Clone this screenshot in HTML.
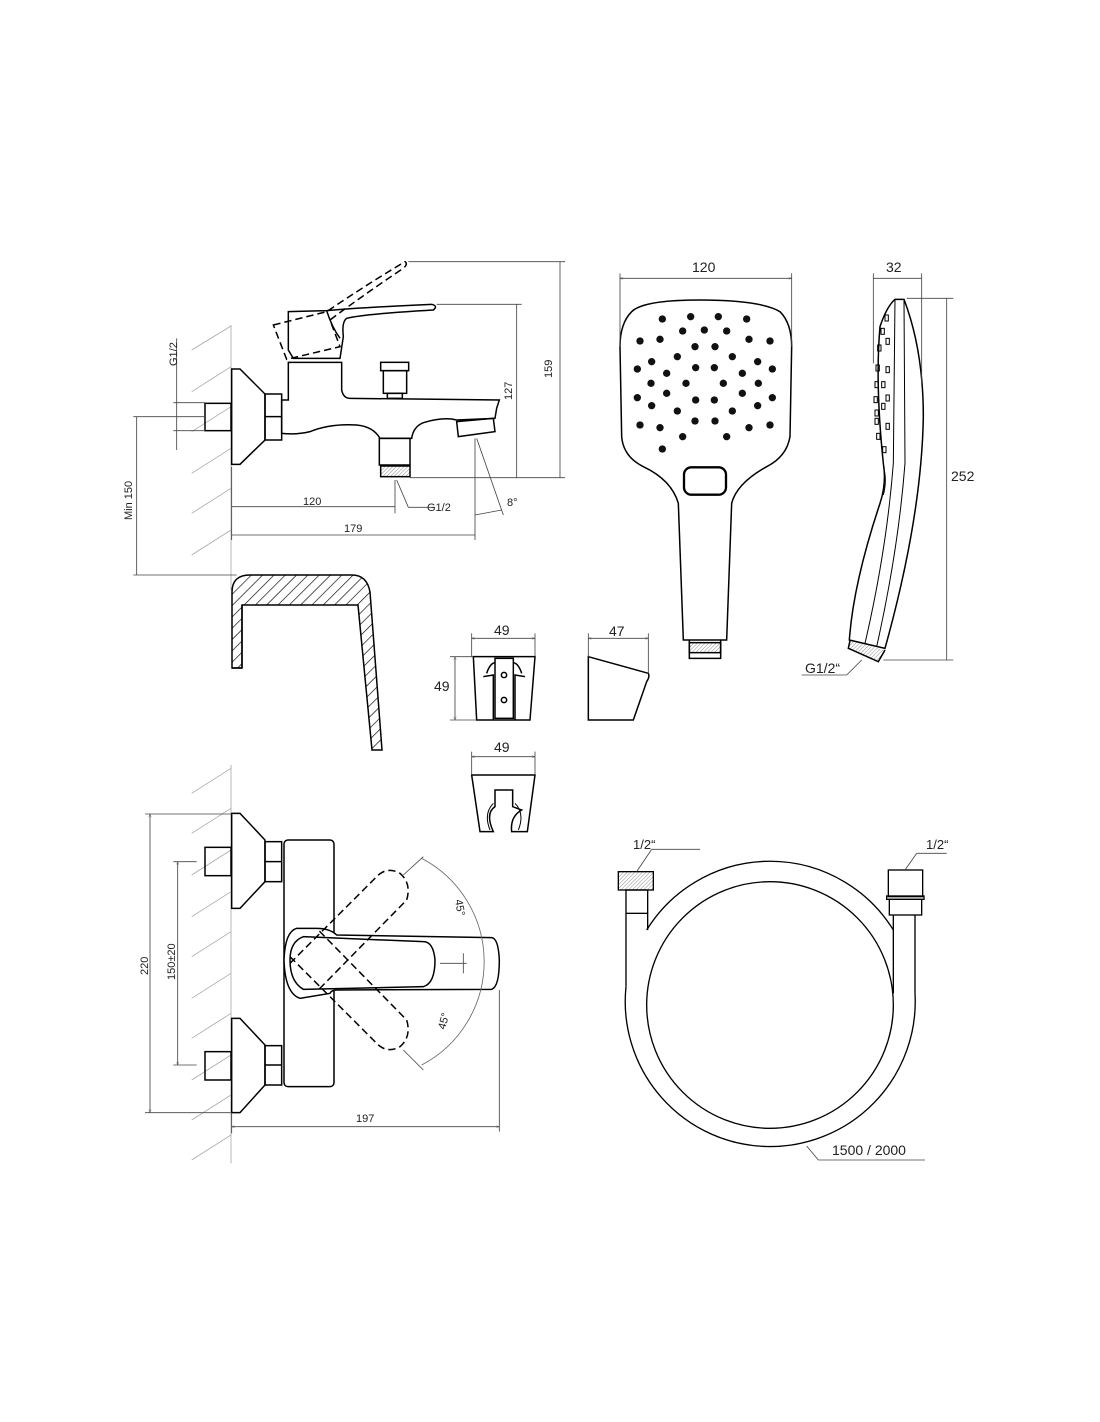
<!DOCTYPE html>
<html><head><meta charset="utf-8"><style>
html,body{margin:0;padding:0;background:#fff}
svg{display:block}
text{font-family:"Liberation Sans",sans-serif;fill:#222}
</style></head><body>
<svg width="1100" height="1422" viewBox="0 0 1100 1422" xmlns="http://www.w3.org/2000/svg">
<defs>
<pattern id="hatch" patternUnits="userSpaceOnUse" width="8" height="8" patternTransform="rotate(45)">
<line x1="0" y1="0" x2="0" y2="8" stroke="#000" stroke-width="1.3"/></pattern>
<marker id="ar" markerWidth="10" markerHeight="8" refX="10" refY="4" orient="auto-start-reverse" markerUnits="userSpaceOnUse">
<path d="M0,0 L10,4 L0,8" fill="none" stroke="#444" stroke-width="1"/></marker>
</defs>

<!-- TOP FAUCET (zoom coords, offset 130,250, scale 1/3) -->
<g transform="translate(130,250) scale(0.33333)" fill="none" stroke="#000" stroke-width="4.5">
 <g stroke="#aaa" stroke-width="2.5">
  <line x1="303" y1="225" x2="303" y2="1020"/>
  <line x1="185" y1="300" x2="303" y2="228"/>
  <line x1="185" y1="425" x2="303" y2="350"/>
  <line x1="185" y1="545" x2="303" y2="470"/>
  <line x1="185" y1="670" x2="303" y2="595"/>
  <line x1="185" y1="790" x2="303" y2="715"/>
  <line x1="185" y1="915" x2="303" y2="840"/>
 </g>
 <path d="M305,357 L330,357 L405,432 L405,570 L330,643 L305,643 Z"/>
 <rect x="225" y="460" width="78" height="82"/>
 <rect x="405" y="432" width="50" height="138"/>
 <line x1="405" y1="500" x2="455" y2="500"/>
 <path d="M455,450 L475,450 L475,337 L635,337 L635,420 Q640,445 660,445 L1108,450 L1100,475 L1095,505 L980,510 Q940,500 880,518 Q850,530 845,565 L750,565 Q730,530 680,525 Q600,520 540,545 Q500,555 455,550 Z"/>
 <path d="M980,515 L1090,505 L1095,545 L985,560 Z"/>
 <rect x="748" y="565" width="92" height="80"/>
 <rect x="752" y="648" width="88" height="32" fill="url(#hatch)"/>
 <rect x="752" y="337" width="84" height="25"/>
 <rect x="760" y="362" width="70" height="68"/>
 <rect x="772" y="430" width="45" height="15"/>
 <path d="M475,185 L590,182 Q700,172 905,163 Q925,168 910,180 Q700,192 650,205 Q635,215 640,260 L630,325 L490,325 L475,300 Z"/>
 <path d="M590,182 Q605,230 630,265"/>
 <path d="M430,225 L590,185 Q700,110 825,35 Q835,42 820,55 Q700,135 600,210 L630,290 L470,328 Z" stroke-dasharray="22,12"/>
 <!-- dims -->
 <g stroke="#444" stroke-width="2.5">
  <line x1="835" y1="35" x2="1305" y2="35"/>
  <line x1="920" y1="163" x2="1175" y2="163"/>
  <line x1="840" y1="683" x2="1305" y2="683"/>
  <line x1="1290" y1="35" x2="1290" y2="683"/>
  <line x1="1160" y1="163" x2="1160" y2="683"/>
  <line x1="140" y1="265" x2="140" y2="600"/>
  <line x1="130" y1="458" x2="225" y2="458"/>
  <line x1="130" y1="542" x2="225" y2="542"/>
  <line x1="20" y1="500" x2="20" y2="975"/>
  <line x1="10" y1="500" x2="225" y2="500"/>
  <line x1="10" y1="975" x2="320" y2="975"/>
  <line x1="305" y1="770" x2="795" y2="770"/>
  <line x1="795" y1="690" x2="795" y2="790"/>
  <line x1="305" y1="855" x2="1035" y2="855"/>
  <line x1="1035" y1="565" x2="1035" y2="870"/>
  <line x1="1040" y1="565" x2="1120" y2="795"/>
  <line x1="1035" y1="795" x2="1115" y2="780"/>
  <line x1="800" y1="690" x2="835" y2="772"/>
  <line x1="835" y1="772" x2="915" y2="772"/>
  <line x1="305" y1="650" x2="305" y2="870"/>
 </g>
</g>
<g font-size="11">
 <text x="427" y="511" transform="rotate(0)">G1/2</text>
 <text x="303" y="505">120</text>
 <text x="344" y="532">179</text>
 <text x="507" y="506">8°</text>
 <text transform="translate(177,366) rotate(-90)">G1/2</text>
 <text transform="translate(132,520) rotate(-90)">Min 150</text>
 <text transform="translate(552,378) rotate(-90)">159</text>
 <text transform="translate(512,400) rotate(-90)">127</text>
</g>

<!-- BATHTUB -->
<path d="M232,668 L232,592 Q232,575 250,575 L352,575 Q367,575 370,592 L382,750 L372,750 L358,605 L242,605 L242,668 Z" fill="url(#hatch)" stroke="#000" stroke-width="1.5"/>
<path d="M242,605 L242,668 M232,668 L242,668" stroke="#000" stroke-width="1.5"/>

<!-- HAND SHOWER (zoom coords, offset 600,250) -->
<g transform="translate(600,250) scale(0.33333)" fill="none" stroke="#000" stroke-width="4.5">
 <path d="M95,185 Q130,150 300,150 Q480,150 540,185 Q575,220 575,290 L570,560 Q560,620 500,650 Q410,700 395,760 L380,1170 L250,1170 L235,760 Q215,690 130,650 Q70,620 65,560 L60,290 Q60,220 95,185 Z"/>
 <rect x="252" y="652" width="126" height="82" rx="22" stroke-width="7"/>
 <path d="M268,1170 L268,1225 L362,1225 L362,1170" />
 <rect x="268" y="1178" width="94" height="30" fill="url(#hatch)"/>
 <g fill="#111" stroke="none">
  <circle cx="187" cy="207" r="11"/><circle cx="272" cy="200" r="11"/><circle cx="355" cy="200" r="11"/><circle cx="440" cy="207" r="11"/>
  <circle cx="248" cy="243" r="11"/><circle cx="313" cy="240" r="11"/><circle cx="380" cy="243" r="11"/>
  <circle cx="120" cy="273" r="11"/><circle cx="180" cy="268" r="11"/><circle cx="447" cy="268" r="11"/><circle cx="510" cy="273" r="11"/>
  <circle cx="285" cy="290" r="11"/><circle cx="345" cy="290" r="11"/>
  <circle cx="232" cy="320" r="11"/><circle cx="397" cy="320" r="11"/>
  <circle cx="155" cy="335" r="11"/><circle cx="473" cy="335" r="11"/>
  <circle cx="112" cy="357" r="11"/><circle cx="287" cy="353" r="11"/><circle cx="343" cy="353" r="11"/><circle cx="517" cy="357" r="11"/>
  <circle cx="200" cy="370" r="11"/><circle cx="427" cy="370" r="11"/>
  <circle cx="153" cy="400" r="11"/><circle cx="258" cy="400" r="11"/><circle cx="370" cy="400" r="11"/><circle cx="475" cy="400" r="11"/>
  <circle cx="200" cy="430" r="11"/><circle cx="427" cy="430" r="11"/>
  <circle cx="112" cy="443" r="11"/><circle cx="287" cy="450" r="11"/><circle cx="343" cy="450" r="11"/><circle cx="517" cy="443" r="11"/>
  <circle cx="155" cy="467" r="11"/><circle cx="473" cy="467" r="11"/>
  <circle cx="232" cy="483" r="11"/><circle cx="397" cy="483" r="11"/>
  <circle cx="285" cy="513" r="11"/><circle cx="345" cy="513" r="11"/>
  <circle cx="120" cy="525" r="11"/><circle cx="180" cy="533" r="11"/><circle cx="447" cy="533" r="11"/><circle cx="510" cy="525" r="11"/>
  <circle cx="248" cy="560" r="11"/><circle cx="380" cy="560" r="11"/>
  <circle cx="187" cy="597" r="11"/>
 </g>
 <!-- side view -->
 <path d="M885,148 L912,148 Q970,300 970,500 Q965,800 855,1195 L748,1170 Q760,1000 840,760 Q860,700 850,640 Q825,400 840,230 Q860,170 885,148 Z"/>
 <path d="M885,148 L880,640 Q860,900 795,1180 M912,148 L915,640 Q895,900 830,1190" stroke-width="3"/>
 <path d="M750,1172 L745,1195 L835,1235 L855,1200" fill="url(#hatch)"/>
 <g stroke-width="3">
  <rect x="855" y="195" width="10" height="18"/><rect x="843" y="235" width="10" height="18"/><rect x="833" y="285" width="10" height="18"/><rect x="858" y="265" width="10" height="18"/>
  <rect x="828" y="345" width="10" height="18"/><rect x="858" y="350" width="10" height="18"/><rect x="825" y="395" width="10" height="18"/><rect x="845" y="395" width="10" height="18"/>
  <rect x="822" y="440" width="10" height="18"/><rect x="858" y="435" width="10" height="18"/><rect x="825" y="480" width="10" height="18"/><rect x="845" y="460" width="10" height="18"/>
  <rect x="825" y="505" width="10" height="18"/><rect x="858" y="520" width="10" height="18"/><rect x="830" y="550" width="10" height="18"/><rect x="848" y="590" width="10" height="18"/>
  <path d="M850,650 Q862,690 850,735"/>
 </g>
 <g stroke="#444" stroke-width="2.5">
  <line x1="60" y1="70" x2="60" y2="290"/><line x1="575" y1="70" x2="575" y2="290"/>
  <line x1="60" y1="85" x2="575" y2="85" marker-start="url(#ar)" marker-end="url(#ar)"/>
  <line x1="820" y1="70" x2="820" y2="340"/><line x1="965" y1="70" x2="965" y2="400"/>
  <line x1="820" y1="85" x2="965" y2="85"/>
  <line x1="920" y1="145" x2="1060" y2="145"/><line x1="850" y1="1230" x2="1060" y2="1230"/>
  <line x1="1040" y1="145" x2="1040" y2="1230"/>
  <line x1="605" y1="1275" x2="740" y2="1275"/><line x1="740" y1="1275" x2="785" y2="1230"/>
 </g>
</g>
<g font-size="14">
 <text x="692" y="272">120</text>
 <text x="886" y="272">32</text>
 <text x="951" y="481">252</text>
 <text x="805" y="673">G1/2“</text>
 <text x="494" y="635">49</text>
 <text x="609" y="636">47</text>
 <text x="434" y="691">49</text>
 <text x="494" y="752">49</text>
 <text x="633" y="849" font-size="13">1/2“</text>
 <text x="926" y="849" font-size="13">1/2“</text>
 <text x="832" y="1155">1500 / 2000</text>
</g>

<!-- HOLDERS (zoom offset 440,610) -->
<g transform="translate(440,610) scale(0.33333)" fill="none" stroke="#000" stroke-width="4.5">
 <path d="M100,140 L285,140 L270,330 L110,330 Z"/>
 <path d="M130,200 L160,195 L160,330 M255,200 L225,195 L225,330"/>
 <rect x="165" y="145" width="55" height="180"/>
 <circle cx="192" cy="195" r="8"/><circle cx="192" cy="270" r="8"/>
 <path d="M140,190 Q150,160 165,158 M245,190 Q235,160 220,158"/>
 <path d="M445,140 L625,190 Q630,200 620,215 L580,330 L445,330 Z"/>
 <path d="M95,495 L285,495 L262,665 L215,665 Q210,620 245,600 L218,590 L218,540 L165,540 L165,590 Q135,610 160,665 L120,665 Z"/>
 <path d="M160,580 Q130,610 150,660 M225,580 Q255,610 235,660" stroke-width="3"/>
 <g stroke="#444" stroke-width="2.5">
  <line x1="95" y1="70" x2="95" y2="140"/><line x1="285" y1="70" x2="285" y2="140"/>
  <line x1="95" y1="85" x2="285" y2="85" marker-start="url(#ar)" marker-end="url(#ar)"/>
  <line x1="445" y1="70" x2="445" y2="140"/><line x1="625" y1="70" x2="625" y2="190"/>
  <line x1="445" y1="85" x2="625" y2="85" marker-start="url(#ar)" marker-end="url(#ar)"/>
  <line x1="30" y1="140" x2="100" y2="140"/><line x1="30" y1="330" x2="110" y2="330"/>
  <line x1="45" y1="140" x2="45" y2="330" marker-start="url(#ar)" marker-end="url(#ar)"/>
  <line x1="95" y1="425" x2="95" y2="495"/><line x1="285" y1="425" x2="285" y2="495"/>
  <line x1="95" y1="440" x2="285" y2="440" marker-start="url(#ar)" marker-end="url(#ar)"/>
 </g>
</g>

<!-- HOSE (zoom offset 600,820) -->
<g transform="translate(600,820) scale(0.33333)" fill="none" stroke="#000" stroke-width="4">
 <path d="M78,500 A435,435 0 1 0 945,520" />
 <path d="M140,330 A435,435 0 0 1 880,330"/>
 <circle cx="510" cy="555" r="370"/>
 <path d="M78,500 L78,280 M143,330 L143,280 M880,520 L880,285 M945,520 L945,285"/>
 <rect x="78" y="210" width="65" height="70"/>
 <rect x="55" y="155" width="105" height="55" fill="url(#hatch)"/>
 <rect x="865" y="150" width="103" height="80"/>
 <rect x="860" y="228" width="112" height="10"/>
 <rect x="868" y="238" width="97" height="47"/>
 <g stroke="#444" stroke-width="2.5">
  <line x1="110" y1="155" x2="155" y2="88"/><line x1="155" y1="88" x2="300" y2="88"/>
  <line x1="915" y1="150" x2="950" y2="100"/><line x1="950" y1="100" x2="1040" y2="100"/>
  <line x1="620" y1="978" x2="655" y2="1020"/><line x1="655" y1="1020" x2="975" y2="1020"/>
 </g>
</g>

<!-- BOTTOM FAUCET (zoom offset 130,760) -->
<g transform="translate(130,760) scale(0.33333)" fill="none" stroke="#000" stroke-width="4.5">
 <g stroke="#aaa" stroke-width="2.5">
  <line x1="303" y1="15" x2="303" y2="1210"/>
  <line x1="185" y1="100" x2="303" y2="25"/><line x1="185" y1="220" x2="303" y2="145"/>
  <line x1="185" y1="345" x2="303" y2="270"/><line x1="185" y1="470" x2="303" y2="395"/>
  <line x1="185" y1="590" x2="303" y2="515"/><line x1="185" y1="715" x2="303" y2="640"/>
  <line x1="185" y1="835" x2="303" y2="760"/><line x1="185" y1="960" x2="303" y2="885"/>
  <line x1="185" y1="1080" x2="303" y2="1005"/><line x1="185" y1="1200" x2="303" y2="1125"/>
 </g>
 <path d="M305,160 L330,160 L405,240 L405,365 L330,445 L305,445 Z"/>
 <rect x="405" y="245" width="50" height="120"/><line x1="405" y1="305" x2="455" y2="305"/>
 <rect x="225" y="262" width="78" height="85"/>
 <path d="M305,775 L330,775 L405,855 L405,975 L330,1058 L305,1058 Z"/>
 <rect x="405" y="857" width="50" height="118"/><line x1="405" y1="915" x2="455" y2="915"/>
 <rect x="225" y="875" width="78" height="85"/>
 <rect x="462" y="240" width="150" height="740" rx="12" fill="#fff"/>
 <path d="M500,505 Q465,515 462,600 Q465,700 510,715 L600,700 Q605,690 620,690 L1085,688 Q1108,680 1108,600 Q1105,535 1085,533 L620,525 Q600,505 560,505 Z" fill="#fff"/>
 <path d="M520,530 Q480,545 480,600 Q480,665 520,688 L880,680 Q915,670 915,600 Q910,545 880,545 Z"/>
 <g stroke-dasharray="22,12">
  <path d="M480,610 L745,345 Q775,320 810,340 Q845,370 830,420 L565,690"/>
  <path d="M480,590 L745,855 Q775,880 810,860 Q845,830 830,780 L565,510"/>
 </g>
 <path d="M875,295 A350,350 0 0 1 875,915" stroke="#666" stroke-width="2.5"/>
 <g stroke="#444" stroke-width="2.5">
  <line x1="820" y1="345" x2="880" y2="290"/><line x1="820" y1="870" x2="880" y2="930"/>
  <line x1="930" y1="610" x2="1010" y2="610"/><line x1="1000" y1="580" x2="1000" y2="640"/>
  <line x1="45" y1="162" x2="305" y2="162"/><line x1="45" y1="1058" x2="305" y2="1058"/>
  <line x1="60" y1="162" x2="60" y2="1058" marker-start="url(#ar)" marker-end="url(#ar)"/>
  <line x1="130" y1="305" x2="200" y2="305"/><line x1="130" y1="915" x2="200" y2="915"/>
  <line x1="143" y1="305" x2="143" y2="915" marker-start="url(#ar)" marker-end="url(#ar)"/>
  <line x1="305" y1="1060" x2="305" y2="1120"/><line x1="1108" y1="690" x2="1108" y2="1115"/>
  <line x1="305" y1="1100" x2="1108" y2="1100" marker-start="url(#ar)" marker-end="url(#ar)"/>
 </g>
</g>
<g font-size="11">
 <text transform="translate(148,975) rotate(-90)">220</text>
 <text transform="translate(175,980) rotate(-90)">150±20</text>
 <text x="356" y="1122">197</text>
 <text transform="translate(455,900) rotate(80)">45°</text>
 <text transform="translate(445,1030) rotate(-75)">45°</text>
</g>
</svg>
</body></html>
